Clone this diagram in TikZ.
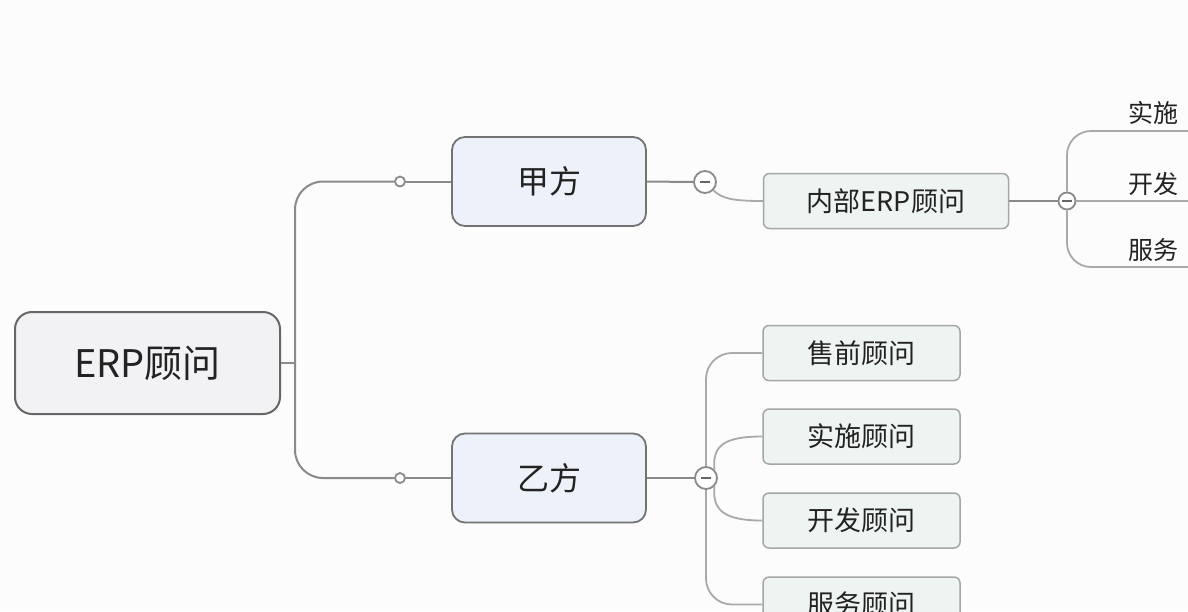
\documentclass[tikz,border=0pt]{standalone}
\usepackage{fontspec}
\newfontfamily\cjk{Noto Sans CJK SC}
\definecolor{bgc}{HTML}{FCFCFC}
\definecolor{linec}{HTML}{8A8A8A}
\definecolor{linel}{HTML}{A9A9A9}
\definecolor{txt}{HTML}{222222}
\definecolor{rootfill}{HTML}{F2F2F5}
\definecolor{sidefill}{HTML}{EDF2FA}
\definecolor{leaffill}{HTML}{EEF4F1}
\begin{document}
\begin{tikzpicture}[x=1pt,y=-1pt,
  rootbox/.style={draw=black!60, line width=2pt, fill=rootfill, rounded corners=17pt, minimum width=265pt, minimum height=102pt, text=txt, font=\cjk\fontsize{38}{44}\selectfont, inner sep=0pt},
  sidebox/.style={draw=black!55, line width=1.8pt, fill=sidefill, rounded corners=13pt, minimum width=194pt, minimum height=89pt, text=txt, font=\cjk\fontsize{32}{38}\selectfont, inner sep=0pt},
  leafbox/.style={draw=black!35, line width=1.5pt, fill=leaffill, rounded corners=6pt, minimum width=197pt, minimum height=55pt, text=txt, font=\cjk\fontsize{27}{32}\selectfont, inner sep=0pt},
  edgetxt/.style={text=txt, font=\cjk\fontsize{25}{30}\selectfont, anchor=west, inner sep=0pt},
  conn/.style={draw=linec, line width=2pt},
  connl/.style={draw=linel, line width=1.8pt},
  knob/.style={circle, draw=linec, line width=1.8pt, fill=white, minimum size=10pt, inner sep=0pt},
  minus/.style={circle, draw=linec, line width=1.8pt, fill=white, minimum size=22pt, inner sep=0pt, path picture={\draw[black!60, line width=2.4pt] ([xshift=-5pt]path picture bounding box.center) -- ([xshift=5pt]path picture bounding box.center);}},
  minuss/.style={minus, minimum size=17pt}
]
\fill[bgc] (0,0) rectangle (1188,611);
\useasboundingbox (0,0) rectangle (1188,611);

% nodes
\node[rootbox] (root) at (147.5,363) {ERP顾问};
\node[sidebox] (jia) at (549,181.5) {甲方};
\node[sidebox] (yi) at (549,478) {乙方};
\node[leafbox, minimum width=245pt] (nb) at (886,201) {内部ERP顾问};
\node[leafbox] (sq) at (861.5,353) {售前顾问};
\node[leafbox] (ss) at (861.5,436.5) {实施顾问};
\node[leafbox] (kf) at (861.5,520.5) {开发顾问};
\node[leafbox] (fw) at (861.5,604.5) {服务顾问};

\coordinate (tr) at (295,363);
\node[knob] (k1) at (400,181.5) {};
\node[knob] (k2) at (400,478) {};
\node[minus] (m1) at (705,182) {};
\node[minus] (m2) at (706,478) {};
\node[minuss] (m3) at (1067,201) {};

\node[edgetxt] (t1) at (1128,113) {实施};
\node[edgetxt] (t2) at (1128,184) {开发};
\node[edgetxt] (t3) at (1128,250) {服务};
\coordinate (e1) at (1188,131);
\coordinate (e2) at (1188,201);
\coordinate (e3) at (1188,267);

% connectors from root
\draw[conn] (root.east) -- (tr);
\draw[conn, rounded corners=28pt] (tr) -- (295,181.5) -- (k1.west);
\draw[conn, rounded corners=28pt] (tr) -- (295,478) -- (k2.west);
\draw[conn] (k1.east) -- (jia.west);
\draw[conn] (k2.east) -- (yi.west);

% 甲方 branch
\draw[conn] (jia.east) -- (m1.west);
\draw[connl] (m1.south east) .. controls (722,198) and (730,201) .. (nb.west);
\draw[conn] (nb.east) -- (m3.west);
\draw[connl, rounded corners=24pt] (m3.north) -- (1067,131) -- (e1);
\draw[connl] (m3.east) -- (e2);
\draw[connl, rounded corners=24pt] (m3.south) -- (1067,267) -- (e3);

% 乙方 branch
\draw[conn] (yi.east) -- (m2.west);
\draw[connl, rounded corners=26pt] (m2.north) -- (706,353) -- (sq.west);
\draw[connl] (m2.north east) .. controls (712,445) and (725,436.5) .. (ss.west);
\draw[connl] (m2.south east) .. controls (712,511) and (725,520.5) .. (kf.west);
\draw[connl, rounded corners=26pt] (m2.south) -- (706,604.5) -- (fw.west);
\end{tikzpicture}
\end{document}
